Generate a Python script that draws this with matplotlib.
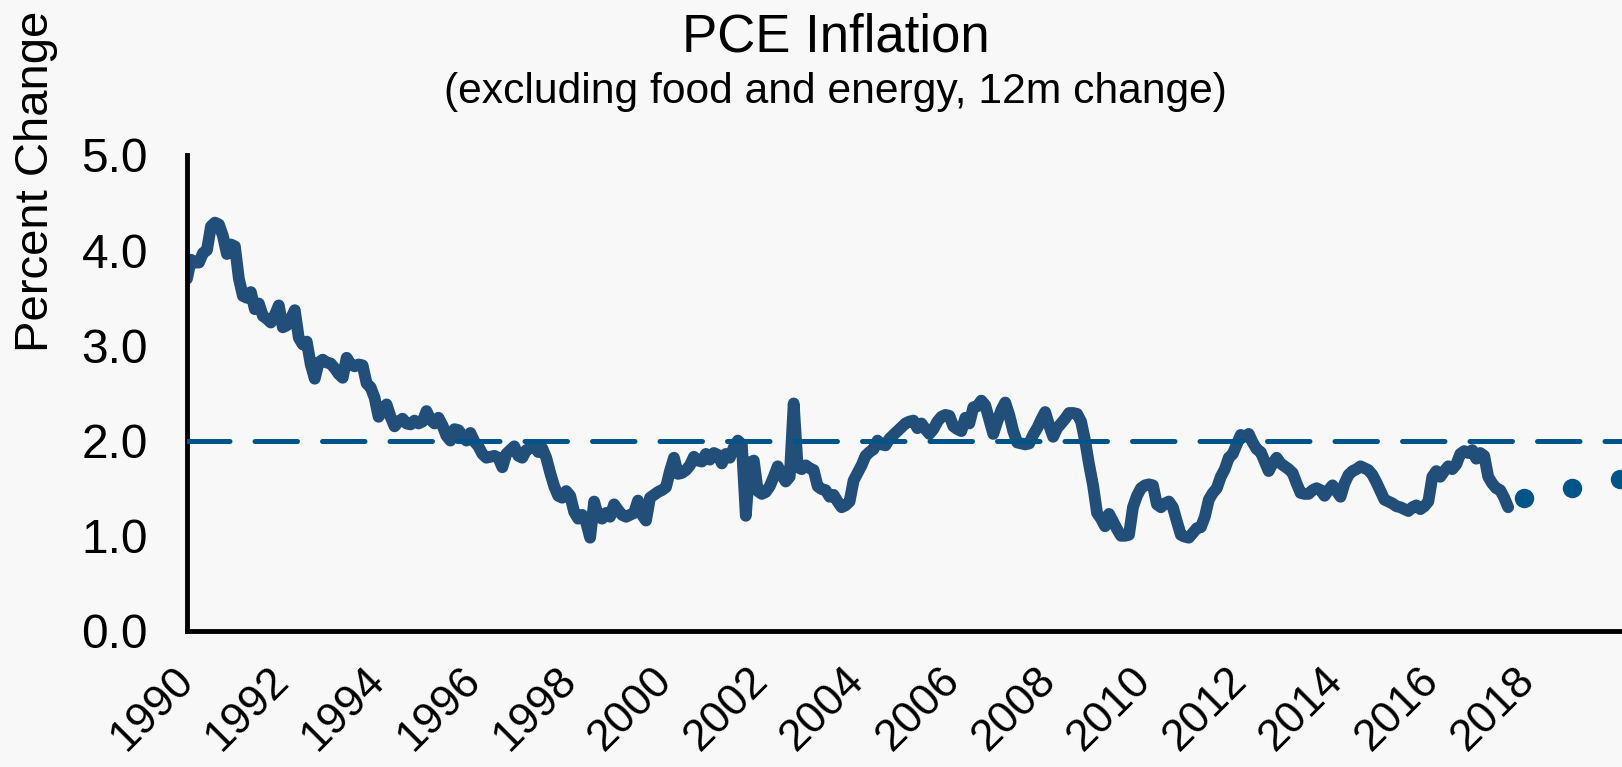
import numpy as np
import matplotlib
matplotlib.use("Agg")
import matplotlib.pyplot as plt

plt.rcParams['font.family'] = ['Liberation Sans', 'DejaVu Sans']

# core PCE, 12-month % change, monthly from Jan 1990
start_year = 1990
core_pce = [
    3.70, 3.90, 3.87, 3.87, 3.97, 4.00, 4.25, 4.29, 4.27, 4.15, 3.96, 4.06,  # 1990
    4.04, 3.70, 3.52, 3.50, 3.56, 3.38, 3.44, 3.31, 3.28, 3.24, 3.32, 3.42,  # 1991
    3.19, 3.21, 3.28, 3.37, 3.08, 3.01, 3.04, 2.80, 2.65, 2.82, 2.85, 2.82,  # 1992
    2.81, 2.76, 2.70, 2.66, 2.87, 2.80, 2.78, 2.80, 2.79, 2.60, 2.56, 2.45,  # 1993
    2.25, 2.32, 2.38, 2.25, 2.15, 2.20, 2.23, 2.18, 2.17, 2.21, 2.18, 2.20,  # 1994
    2.31, 2.22, 2.18, 2.24, 2.16, 2.05, 2.00, 2.12, 2.11, 2.05, 2.00, 2.08,  # 1995
    1.99, 1.94, 1.86, 1.82, 1.83, 1.84, 1.82, 1.72, 1.86, 1.90, 1.94, 1.84,  # 1996
    1.82, 1.90, 1.92, 1.95, 1.88, 1.92, 1.82, 1.66, 1.52, 1.42, 1.40, 1.47,  # 1997
    1.42, 1.25, 1.18, 1.22, 1.14, 0.98, 1.36, 1.20, 1.18, 1.24, 1.20, 1.33,  # 1998
    1.27, 1.22, 1.20, 1.22, 1.24, 1.37, 1.22, 1.16, 1.40, 1.43, 1.46, 1.48,  # 1999
    1.51, 1.68, 1.82, 1.65, 1.66, 1.69, 1.74, 1.83, 1.79, 1.78, 1.86, 1.80,  # 2000
    1.87, 1.85, 1.76, 1.86, 1.82, 1.93, 2.00, 1.96, 1.21, 1.77, 1.79, 1.47,  # 2001
    1.44, 1.46, 1.52, 1.62, 1.73, 1.64, 1.57, 1.62, 2.39, 1.72, 1.70, 1.74,  # 2002
    1.71, 1.69, 1.52, 1.49, 1.48, 1.41, 1.43, 1.36, 1.30, 1.32, 1.36, 1.58,  # 2003
    1.66, 1.74, 1.84, 1.88, 1.91, 2.00, 1.96, 1.95, 2.02, 2.06, 2.10, 2.14,  # 2004
    2.18, 2.20, 2.21, 2.13, 2.18, 2.12, 2.07, 2.12, 2.20, 2.25, 2.27, 2.26,  # 2005
    2.15, 2.12, 2.10, 2.24, 2.18, 2.35, 2.36, 2.42, 2.37, 2.22, 2.07, 2.20,  # 2006
    2.32, 2.40, 2.27, 2.10, 1.98, 1.97, 1.96, 1.97, 2.06, 2.13, 2.22, 2.30,  # 2007
    2.16, 2.04, 2.13, 2.18, 2.23, 2.29, 2.29, 2.28, 2.20, 2.00, 1.75, 1.53,  # 2008
    1.24, 1.18, 1.10, 1.23, 1.15, 1.07, 1.00, 1.00, 1.01, 1.30, 1.42, 1.50,  # 2009
    1.53, 1.54, 1.53, 1.33, 1.30, 1.34, 1.36, 1.30, 1.15, 1.01, 0.99, 0.98,  # 2010
    1.03, 1.08, 1.09, 1.20, 1.38, 1.45, 1.50, 1.62, 1.70, 1.82, 1.86, 1.96,  # 2011
    2.06, 2.04, 2.07, 1.98, 1.91, 1.88, 1.78, 1.68, 1.76, 1.82, 1.76, 1.73,  # 2012
    1.70, 1.66, 1.55, 1.45, 1.44, 1.44, 1.48, 1.50, 1.48, 1.42, 1.48, 1.53,  # 2013
    1.47, 1.41, 1.55, 1.64, 1.68, 1.70, 1.73, 1.71, 1.69, 1.64, 1.56, 1.47,  # 2014
    1.38, 1.36, 1.34, 1.31, 1.30, 1.28, 1.26, 1.30, 1.32, 1.28, 1.31, 1.36,  # 2015
    1.62, 1.68, 1.62, 1.68, 1.73, 1.70, 1.75, 1.86, 1.89, 1.87, 1.90, 1.81,  # 2016
    1.87, 1.84, 1.62, 1.55, 1.50, 1.48, 1.40, 1.30,                          # 2017
]

# projections (Q4 of each year)
proj_years = [2017, 2018, 2019]
proj_values = [1.4, 1.5, 1.6]

target = 2.0
tick_years = list(range(1990, 2019, 2))
y_ticks = [0.0, 1.0, 2.0, 3.0, 4.0, 5.0]

bg = '#f8f8f8'
line_col = '#224e7a'
target_col = '#005488'

x = start_year + np.arange(len(core_pce)) / 12.0
px = np.array(proj_years) + 11 / 12.0

fig = plt.figure(figsize=(16.22, 7.67), dpi=100, facecolor=bg)
ax = fig.add_axes([187 / 1622, 1 - 631 / 767, 1 - 187 / 1622, (631 - 155) / 767])
ax.set_facecolor(bg)

ax.plot(x, core_pce, color=line_col, lw=8.5, solid_capstyle='round',
        solid_joinstyle='round', zorder=2)
ax.axhline(target, color=target_col, lw=3.6, dashes=(8.5, 5),
           dash_capstyle='round', zorder=3)
ax.plot(px, proj_values, 'o', color=target_col, ms=14, mec='none', zorder=3)

ax.set_xlim(1990, 2019.96)
ax.set_ylim(0, 5)
ax.set_yticks(y_ticks)
ax.set_yticklabels([f"{v:.1f}" for v in y_ticks])
ax.set_xticks(tick_years)
ax.set_xticklabels([str(y) for y in tick_years], rotation=45, ha='right',
                   va='center', rotation_mode='anchor')

ax.tick_params(axis='y', length=0, pad=28, labelsize=34.5)
ax.tick_params(axis='x', length=0, pad=31, labelsize=32)

for s in ['top', 'right']:
    ax.spines[s].set_visible(False)
for s in ['left', 'bottom']:
    ax.spines[s].set_linewidth(3.5)
    ax.spines[s].set_color('black')

fig.text(836 / 1622, 1 - 52 / 767, 'PCE Inflation', ha='center',
         va='baseline', fontsize=38)
fig.text(835 / 1622, 1 - 103 / 767, '(excluding food and energy, 12m change)',
         ha='center', va='baseline', fontsize=30.7)
fig.text(36 / 1622, 1 - 181 / 767, 'Percent Change', rotation=90,
         ha='center', va='center', fontsize=34)

fig.savefig('out.png', dpi=100, facecolor=bg)
